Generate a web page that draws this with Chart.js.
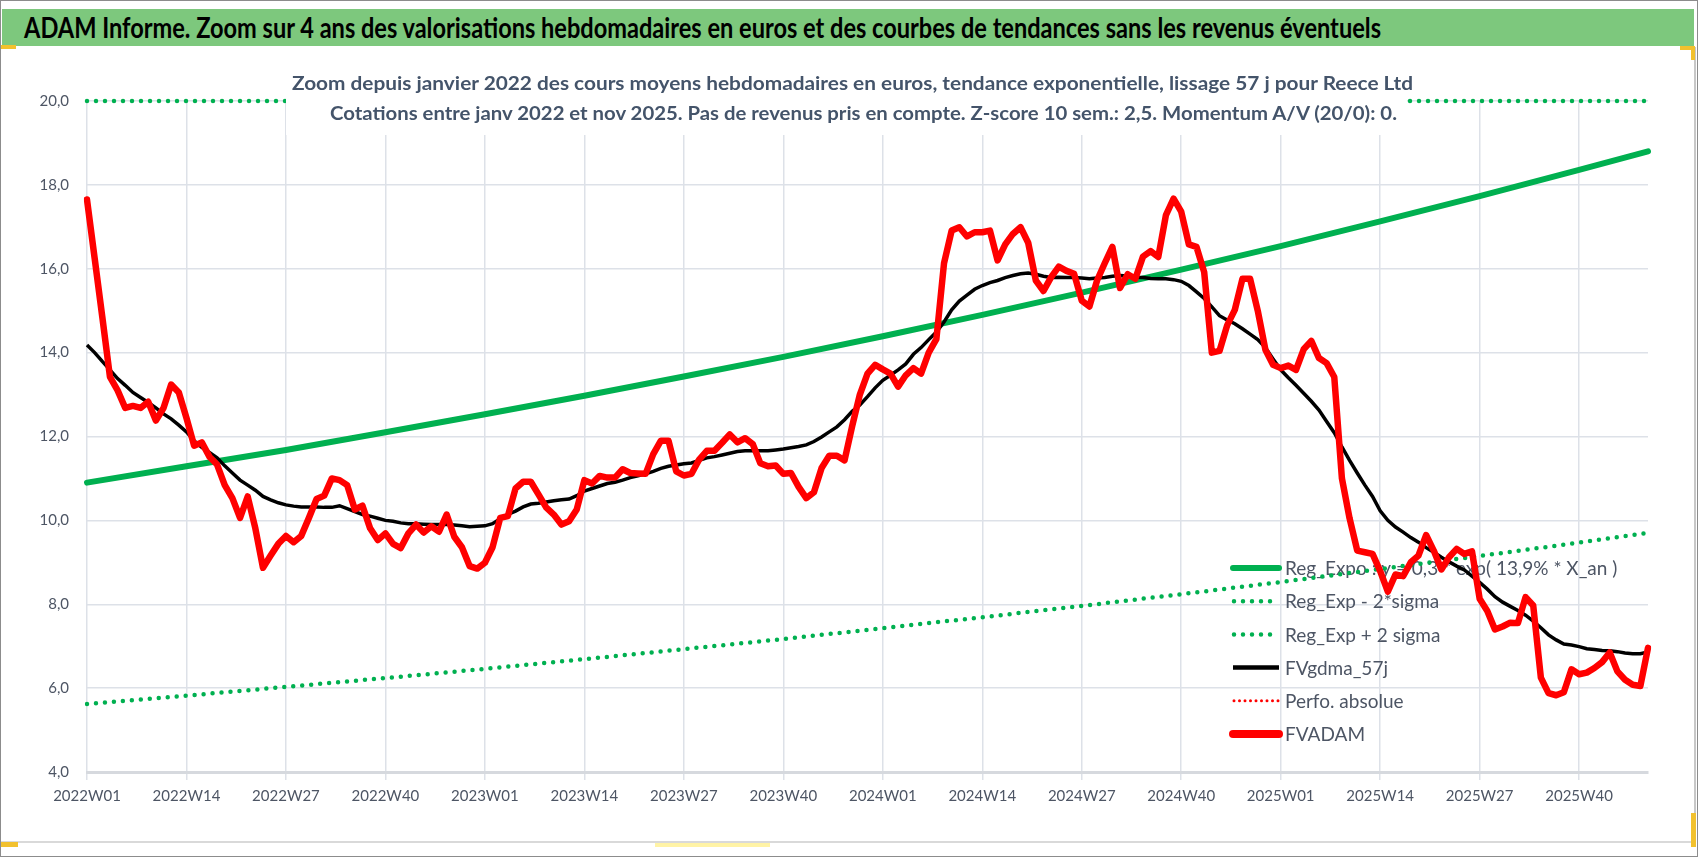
<!DOCTYPE html>
<html lang="fr">
<head>
<meta charset="utf-8">
<title>ADAM Informe - Reece Ltd</title>
<script src="https://cdn.jsdelivr.net/npm/chart.js@4.4.1/dist/chart.umd.min.js"></script>
<style>
  html, body { margin: 0; padding: 0; background: #fff; }
  #page { position: relative; width: 1698px; height: 857px; overflow: hidden; background: #fff; font-family: Lato, "Open Sans", sans-serif; }
  #bandeau { position: absolute; left: 2px; top: 9px; width: 1692px; height: 37px; background: #7dc87d; }
  #titre { position: absolute; left: 24px; top: 12px; white-space: nowrap; font-weight: bold; font-size: 29px; line-height: 29px; color: #000; transform-origin: left top; }
  #cadre { position: absolute; left: 0; top: 47px; width: 1696px; height: 796px; box-sizing: border-box; border-right: 2px solid #c8c8c8; border-bottom: 2px solid #d9d9d9; }
  #graph { position: absolute; left: 0; top: 0; }
  #boite { position: absolute; left: 286px; top: 63px; width: 1121px; height: 72px; background: #fff; }
  .st { position: absolute; white-space: nowrap; font-weight: bold; font-size: 19px; line-height: 22px; color: #44546a; transform-origin: left top; }
  .poignee { position: absolute; background: #f2c12e; }
  #bord { position: absolute; left: 0; top: 0; width: 1698px; height: 857px; box-sizing: border-box; border: 1px solid #8c8c8c; }
</style>
</head>
<body>
<div id="page">
  <div id="bandeau"></div>
  <div id="titre" data-w="1357">ADAM Informe. Zoom sur 4 ans des valorisations hebdomadaires en euros et des courbes de tendances sans les revenus éventuels</div>
  <div id="cadre"></div>
  <canvas id="graph" width="1698" height="857"></canvas>
  <div id="boite"></div>
  <div class="st" data-w="1121" style="left:292px; top:72px;">Zoom depuis janvier  2022 des cours moyens hebdomadaires en euros, tendance exponentielle, lissage 57 j pour Reece Ltd</div>
  <div class="st" data-w="1067" style="left:330px; top:102px;">Cotations entre janv 2022 et nov 2025. Pas de revenus pris en compte. Z-score 10 sem.: 2,5. Momentum A/V (20/0): 0.</div>
  <div class="poignee" style="left:0; top:45px; width:16px; height:4px;"></div>
  <div class="poignee" style="left:1680px; top:46px; width:15px; height:4px;"></div>
  <div class="poignee" style="left:1691px; top:46px; width:4px; height:14px;"></div>
  <div class="poignee" style="left:0; top:842px; width:18px; height:5px;"></div>
  <div class="poignee" style="left:1691px; top:813px; width:5px; height:34px;"></div>
  <div class="poignee" style="left:655px; top:843px; width:115px; height:4px; background:#fff3a6;"></div>
  <div id="bord"></div>
</div>
<script>
// semaines ISO affichées : 2022W01 .. 2025W49
const annees = [2022, 2023, 2024, 2025];
const nbSemaines = [52, 52, 52, 49];

// FVADAM : cours moyen hebdomadaire (euros)
const fvadam = [
  17.65, 16.25, 14.85, 13.42, 13.1, 12.68, 12.73, 12.68, 12.83, 12.38,
  12.68, 13.24, 13.05, 12.44, 11.78, 11.86, 11.52, 11.33, 10.84, 10.53,
  10.06, 10.57, 9.81, 8.87, 9.16, 9.44, 9.63, 9.48, 9.63, 10.06,
  10.51, 10.59, 11.0, 10.96, 10.84, 10.26, 10.35, 9.81, 9.53, 9.69,
  9.44, 9.34, 9.69, 9.9, 9.71, 9.86, 9.73, 10.14, 9.61, 9.36,
  8.91, 8.85, 8.99, 9.36, 10.06, 10.1, 10.76, 10.92, 10.92, 10.62,
  10.31, 10.14, 9.9, 9.98, 10.26, 10.96, 10.88, 11.06, 11.02, 11.02,
  11.22, 11.13, 11.12, 11.11, 11.58, 11.9, 11.9, 11.17, 11.07, 11.11,
  11.45, 11.66, 11.66, 11.85, 12.05, 11.86, 11.96, 11.82, 11.36, 11.29,
  11.31, 11.11, 11.13, 10.8, 10.53, 10.67, 11.25, 11.54, 11.54, 11.43,
  12.25, 13.0, 13.5, 13.71, 13.6, 13.5, 13.19, 13.46, 13.63, 13.5,
  14.0, 14.32, 16.13, 16.91, 16.99, 16.77, 16.87, 16.87, 16.91, 16.2,
  16.58, 16.83, 16.99, 16.62, 15.72, 15.47, 15.8, 16.05, 15.95, 15.88,
  15.24, 15.1, 15.72, 16.13, 16.52, 15.54, 15.87, 15.76, 16.29, 16.42,
  16.28, 17.28, 17.67, 17.36, 16.58, 16.52, 15.92, 14.0, 14.04, 14.65,
  15.02, 15.76, 15.76, 15.0, 14.07, 13.71, 13.63, 13.69, 13.59, 14.08,
  14.28, 13.87, 13.75, 13.42, 11.0, 10.05, 9.28, 9.24, 9.2, 8.79,
  8.3, 8.71, 8.67, 9.0, 9.16, 9.65, 9.28, 8.83, 9.12, 9.32,
  9.2, 9.26, 8.13, 7.84, 7.4, 7.47, 7.56, 7.55, 8.17, 7.97,
  6.25, 5.88, 5.83, 5.9, 6.45, 6.33, 6.37, 6.48, 6.62, 6.85,
  6.4, 6.2, 6.08, 6.05, 6.96
];

// FVgdma_57j : moyenne lissée 57 jours
const fvgdma = [
  14.18, 14.0, 13.79, 13.59, 13.38, 13.22, 13.05, 12.93, 12.81, 12.68,
  12.54, 12.42, 12.27, 12.11, 11.9, 11.74, 11.62, 11.49, 11.3, 11.13,
  10.96, 10.84, 10.72, 10.57, 10.49, 10.42, 10.37, 10.34, 10.32, 10.32,
  10.32, 10.31, 10.31, 10.35, 10.28, 10.21, 10.14, 10.1, 10.05, 10.0,
  9.98, 9.94, 9.92, 9.92, 9.91, 9.9, 9.9, 9.9, 9.89, 9.87,
  9.85, 9.86, 9.87, 9.92, 10.04, 10.14, 10.22, 10.32, 10.39, 10.41,
  10.44, 10.47, 10.49, 10.51, 10.59, 10.7, 10.76, 10.82, 10.88, 10.91,
  10.96, 11.02, 11.06, 11.11, 11.17, 11.24, 11.29, 11.32, 11.35, 11.37,
  11.43, 11.49, 11.52, 11.56, 11.6, 11.64, 11.66, 11.66, 11.66, 11.66,
  11.68, 11.7, 11.73, 11.76, 11.8, 11.88, 11.99, 12.11, 12.23, 12.4,
  12.6, 12.75, 12.95, 13.16, 13.34, 13.46, 13.59, 13.73, 13.96, 14.12,
  14.31, 14.49, 14.73, 15.02, 15.23, 15.37, 15.51, 15.6, 15.67, 15.72,
  15.79, 15.84, 15.88, 15.9, 15.87, 15.82, 15.79, 15.8, 15.79, 15.79,
  15.78, 15.76, 15.78, 15.79, 15.82, 15.84, 15.83, 15.8, 15.79, 15.77,
  15.76, 15.76, 15.74, 15.7, 15.6, 15.45, 15.29, 15.09, 14.88, 14.78,
  14.69, 14.57, 14.44, 14.31, 14.12, 13.85, 13.59, 13.4, 13.22, 13.03,
  12.84, 12.63, 12.36, 12.09, 11.75, 11.43, 11.13, 10.84, 10.57, 10.23,
  10.0, 9.84, 9.72, 9.59, 9.48, 9.35, 9.24, 9.12, 9.01, 8.91,
  8.82, 8.67, 8.52, 8.36, 8.18, 8.05, 7.95, 7.85, 7.74, 7.6,
  7.44, 7.27, 7.15, 7.05, 7.03, 6.99, 6.94, 6.92, 6.9, 6.89,
  6.87, 6.84, 6.82, 6.82, 6.86
];

// courbes de tendance, relevées aux semaines repères
const semainesTendance = ['2022W01', '2022W14', '2022W27', '2022W40', '2023W01', '2023W14', '2023W27', '2023W40',
  '2024W01', '2024W14', '2024W27', '2024W40', '2025W01', '2025W14', '2025W27', '2025W40', '2025W49'];
const regExpo = [10.90, 11.29, 11.68, 12.10, 12.53, 12.97, 13.43, 13.90, 14.39, 14.90, 15.43, 15.98, 16.54, 17.13, 17.73, 18.36, 18.80];
const regMoins2Sigma = [5.62, 5.82, 6.03, 6.24, 6.46, 6.69, 6.93, 7.17, 7.43, 7.69, 7.96, 8.24, 8.53, 8.84, 9.15, 9.47, 9.70];
const regPlus2Sigma = [20.0, 20.0, 20.0, 20.0, 20.0, 20.0, 20.0, 20.0, 20.0, 20.0, 20.0, 20.0, 20.0, 20.0, 20.0, 20.0, 20.0];
const perfoAbsolue = [];

// axe Y
const yMin = 4, yMax = 20, yPas = 2;

const semaines = [];
annees.forEach((an, k) => {
  for (let w = 1; w <= nbSemaines[k]; w++) semaines.push(an + 'W' + String(w).padStart(2, '0'));
});

const tendance = vals => semainesTendance.map((s, k) => ({ x: s, y: vals[k] }));

// ajuste la largeur des textes HTML
document.querySelectorAll('[data-w]').forEach(el => {
  const w = el.getBoundingClientRect().width;
  el.style.transform = 'scaleX(' + (Number(el.dataset.w) / w) + ')';
});

const GRIS = '#4d5564';
const GRILLE = '#dde1e8';

const legende = {
  id: 'legende',
  beforeDatasetsDraw(chart) {
    const c = chart.ctx;
    c.save();
    c.font = '19px Lato, "Open Sans", sans-serif';
    c.textBaseline = 'middle';
    chart.data.datasets.forEach((ds, i) => {
      const y = 568 + i * 33.2;
      c.beginPath();
      c.strokeStyle = ds.borderColor;
      c.lineWidth = ds.legendWidth;
      c.lineCap = ds.borderCapStyle || 'butt';
      c.setLineDash(ds.borderDash || []);
      c.moveTo(ds.borderDash ? 1234 : 1233, y);
      c.lineTo(1279, y);
      c.stroke();
      c.setLineDash([]);
      c.fillStyle = GRIS;
      c.fillText(ds.label, 1285, y + 1);
    });
    c.restore();
  }
};

new Chart(document.getElementById('graph'), {
  type: 'line',
  data: {
    labels: semaines,
    datasets: [
      { label: 'Reg_Expo : y = 0,3 * exp( 13,9% * X_an )', data: tendance(regExpo), borderColor: '#00b050', borderWidth: 6, legendWidth: 6, borderCapStyle: 'round', order: 2 },
      { label: 'Reg_Exp - 2*sigma', data: tendance(regMoins2Sigma), borderColor: '#00b050', borderWidth: 4.5, legendWidth: 4.5, borderDash: [0, 9], borderCapStyle: 'round', order: 3 },
      { label: 'Reg_Exp + 2 sigma', data: tendance(regPlus2Sigma), borderColor: '#00b050', borderWidth: 4.5, legendWidth: 4.5, borderDash: [0, 9], borderCapStyle: 'round', order: 3, clip: 6 },
      { label: 'FVgdma_57j', data: fvgdma, borderColor: '#000000', borderWidth: 3.5, legendWidth: 4.5, order: 1 },
      { label: 'Perfo. absolue', data: perfoAbsolue, borderColor: '#ff0000', borderWidth: 3, legendWidth: 3, borderDash: [0, 5.5], borderCapStyle: 'round', order: 0 },
      { label: 'FVADAM', data: fvadam, borderColor: '#ff0000', borderWidth: 6.5, legendWidth: 8, borderCapStyle: 'round', borderJoinStyle: 'round', order: 0 }
    ]
  },
  options: {
    responsive: false,
    animation: false,
    layout: { padding: { top: 101, bottom: 45, left: 17, right: 50 } },
    elements: { point: { radius: 0 }, line: { tension: 0 } },
    plugins: { legend: { display: false }, tooltip: { enabled: false }, title: { display: false } },
    scales: {
      x: {
        grid: { color: GRILLE, lineWidth: 1.5, tickLength: 8 },
        border: { display: true, color: '#d6d9de', width: 3 },
        ticks: {
          autoSkip: false, maxRotation: 0, minRotation: 0, padding: 7,
          color: GRIS, font: { family: 'Lato, "Open Sans", sans-serif', size: 15 },
          callback(v, i) { return i % 13 === 0 ? this.getLabelForValue(v) : null; }
        },
        afterFit(s) { s.height = 40; }
      },
      y: {
        min: yMin, max: yMax,
        grid: { color: GRILLE, lineWidth: c => (c.tick && c.tick.value === yMin ? 3 : 1.5), drawTicks: false },
        border: { display: false },
        ticks: {
          stepSize: yPas, padding: 18, color: GRIS,
          font: { family: 'Lato, "Open Sans", sans-serif', size: 15 },
          callback: v => v.toFixed(1).replace('.', ',')
        },
        afterFit(s) { s.width = 70; }
      }
    }
  },
  plugins: [legende]
});
</script>
</body>
</html>
